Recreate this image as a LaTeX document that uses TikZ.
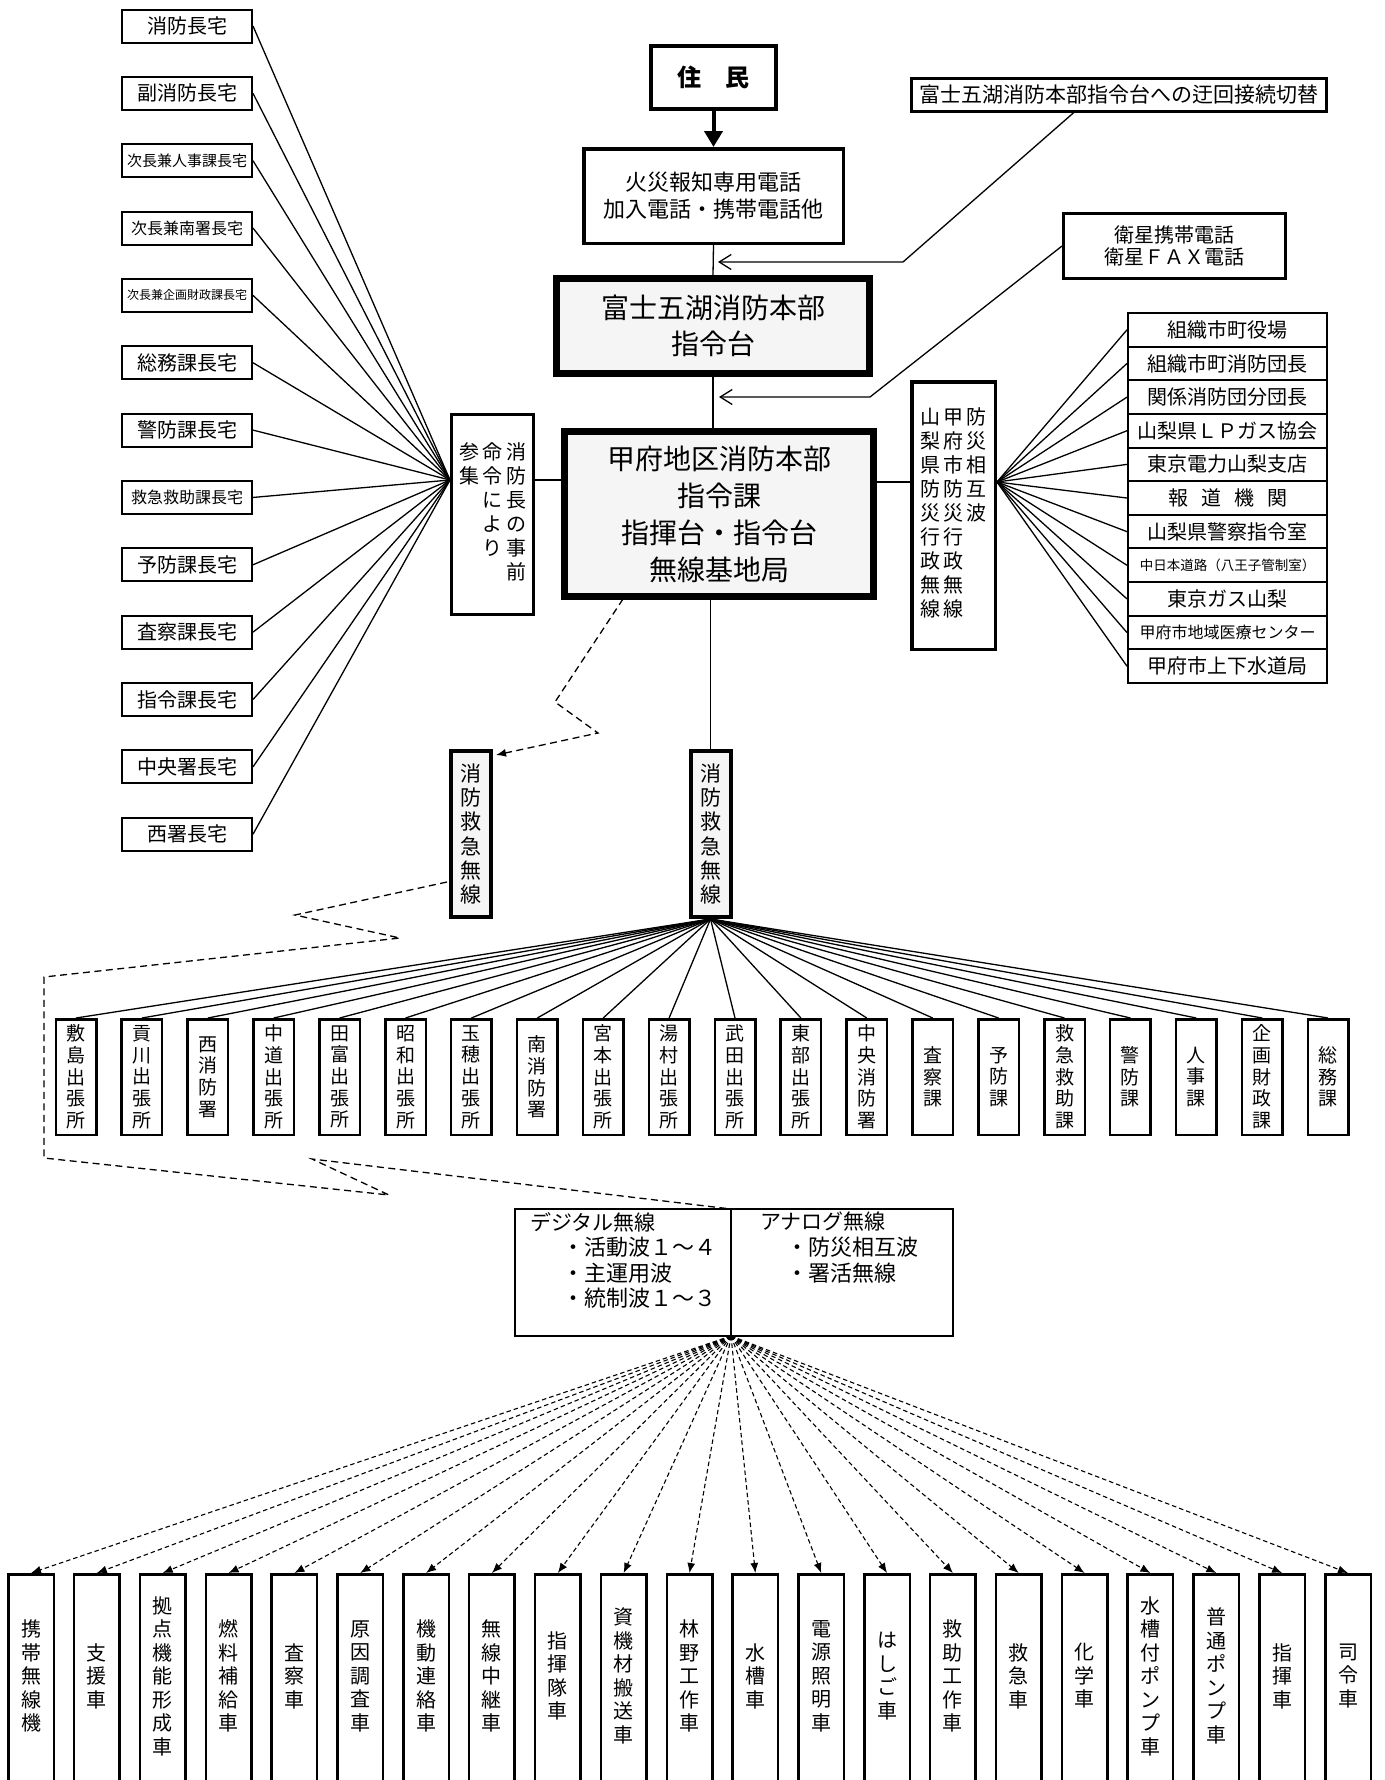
\documentclass[tikz,border=0pt]{standalone}
\usepackage{fontspec}
\setmainfont{Noto Sans CJK JP}
\usetikzlibrary{arrows.meta}
\begin{document}
\begin{tikzpicture}[x=1pt,y=-1pt,
  thinln/.style={line width=1.3pt},
  dashln/.style={line width=1.3pt, dash pattern=on 7pt off 4.5pt},
  fanln/.style={line width=1.1pt, dash pattern=on 4.5pt off 3pt},
  lbox/.style={draw, line width=2pt, minimum width=130pt, minimum height=33pt, inner sep=0pt},
  rbox/.style={draw, line width=2pt, minimum width=199pt, minimum height=33.64pt, inner sep=0pt},
  mbox/.style={draw, line width=2.5pt, minimum width=40.5pt, minimum height=115.5pt, inner sep=0pt, align=center, font=\fontsize{19}{21.7}\selectfont},
  bbox/.style={draw, line width=2.5pt, minimum width=45.5pt, minimum height=240pt, inner sep=0pt},
  btext/.style={align=center, inner sep=0pt, font=\fontsize{20}{23.5}\selectfont},
  rtext/.style={anchor=west, inner sep=0pt, font=\fontsize{21}{21}\selectfont},
  rbul/.style={anchor=west, inner sep=0pt, font=\fontsize{22}{22}\selectfont},
  grayfill/.style={fill=black!4},
  openarr/.style={-{Straight Barb[length=12pt,width=15pt]}},
  solarr/.style={-{Latex[length=10pt,width=8pt]}},
]
\useasboundingbox (0,0) rectangle (1384,1780);
\fill[white] (0,0) rectangle (1384,1780);

% ---------- top chain ----------
\node[draw, line width=4pt, minimum width=125pt, minimum height=63pt, inner sep=0pt,
      font=\fontsize{24}{24}\selectfont\bfseries] (jumin) at (713.5,77.5) {住　民};
\node[draw, line width=3.5pt, minimum width=259.5pt, minimum height=94.5pt, inner sep=0pt,
      align=center, font=\fontsize{22}{27}\selectfont] (kasai) at (713.5,196) {火災報知専用電話\\加入電話・携帯電話他};
\node[draw, line width=5pt, grayfill, minimum width=315pt, minimum height=97pt, inner sep=0pt,
      align=center, font=\fontsize{28}{36}\selectfont] (fuji) at (713,326) {富士五湖消防本部\\指令台};
\draw[line width=1.2pt] ([shift={(6,6)}]fuji.north west) rectangle ([shift={(-6,-6)}]fuji.south east);
\node[draw, line width=5pt, grayfill, minimum width=311pt, minimum height=167pt, inner sep=0pt,
      align=center, font=\fontsize{28}{37}\selectfont] (koufu) at (719,514) {甲府地区消防本部\\指令課\\指揮台・指令台\\無線基地局};
\draw[line width=1.2pt] ([shift={(6,6)}]koufu.north west) rectangle ([shift={(-6,-6)}]koufu.south east);

\draw[line width=4pt, -{Triangle[length=16pt,width=18pt]}] (jumin.south) -- (kasai.north);
\draw[thinln] (kasai.south) -- (fuji.north);
\draw[thinln] (fuji.south) -- (fuji.south |- koufu.north);

% ---------- upper right ----------
\node[draw, line width=3pt, minimum width=415pt, minimum height=33pt, inner sep=0pt,
      font=\fontsize{21}{21}\selectfont] (ukai) at (1119,95) {富士五湖消防本部指令台への迂回接続切替};
\node[draw, line width=3pt, minimum width=222pt, minimum height=65pt, inner sep=0pt,
      align=center, font=\fontsize{20}{22}\selectfont] (eisei) at (1174.5,246) {衛星携帯電話\\衛星ＦＡＸ電話};
\coordinate (u1) at (1075,111.5);
\coordinate (u2) at (903,262);
\coordinate (t1) at (718,262);
\coordinate (e2) at (870,397);
\coordinate (t2) at (719,397);
\draw[thinln, openarr] (u1) -- (u2) -- (t1);
\draw[thinln, openarr] (eisei.west) -- (e2) -- (t2);

% ---------- left column ----------
\foreach \t/\fs [count=\i from 0] in {消防長宅/20, 副消防長宅/20, 次長兼人事課長宅/15, 次長兼南署長宅/16, 次長兼企画財政課長宅/12, 総務課長宅/20, 警防課長宅/20, 救急救助課長宅/16, 予防課長宅/20, 査察課長宅/20, 指令課長宅/20, 中央署長宅/20, 西署長宅/20}
  \node[lbox, font=\fontsize{\fs}{\fs}\selectfont] (l\i) at (187, 26+67.35*\i) {\t};

\node[draw, line width=3pt, minimum width=82pt, minimum height=200pt, inner sep=0pt,
      font=\fontsize{20}{24}\selectfont] (sanshu) at (492.5,514.5)
  {\begin{tabular}{@{}c@{\hspace{3.5pt}}c@{\hspace{3.5pt}}c@{}}参&命&消\\集&令&防\\&に&長\\&よ&の\\&り&事\\&&前\end{tabular}};
\coordinate (sjL) at (450,480);
\foreach \i in {0,...,12} \draw[thinln] (l\i.east) -- (sjL);
\draw[thinln] (sanshu.east |- sjL) -- (koufu.west |- sjL);

% ---------- right column ----------
\node[draw, line width=3.5pt, minimum width=83.5pt, minimum height=267.5pt, inner sep=0pt,
      font=\fontsize{20}{23.75}\selectfont] (bosai) at (953.5,515.5)
  {\begin{tabular}{@{}c@{\hspace{3pt}}c@{\hspace{3pt}}c@{}}山&甲&防\\梨&府&災\\県&市&相\\防&防&互\\災&災&波\\行&行&\\政&政&\\無&無&\\線&線&\end{tabular}};
\coordinate (bR) at (997,482);
\draw[thinln] (koufu.east |- bR) -- (bosai.west |- bR);

\foreach \t/\fs [count=\i from 0] in {組織市町役場/20, 組織市町消防団長/20, 関係消防団分団長/20, 山梨県ＬＰガス協会/20, 東京電力山梨支店/20, {報\hspace{13pt}道\hspace{13pt}機\hspace{13pt}関}/20, 山梨県警察指令室/20, 中日本道路（八王子管制室）/13.5, 東京ガス山梨/20, 甲府市地域医療センター/16, 甲府市上下水道局/20}
  \node[rbox, font=\fontsize{\fs}{\fs}\selectfont] (r\i) at (1227.5, 313+33.64*\i+16.82) {\t};
\foreach \i in {0,...,10} \draw[thinln] (bR) -- (r\i.west);

% ---------- radio boxes ----------
\node[draw, line width=4pt, grayfill, minimum width=40pt, minimum height=166pt, inner sep=0pt,
      align=center, font=\fontsize{21}{24.3}\selectfont] (kyu) at (710.5,834) {消\\防\\救\\急\\無\\線};
\node[draw, line width=4pt, grayfill, minimum width=40pt, minimum height=166pt, inner sep=0pt,
      align=center, font=\fontsize{21}{24.3}\selectfont] (kyuL) at (471,834) {消\\防\\救\\急\\無\\線};
\draw[thinln] (kyu.north |- koufu.south) -- (kyu.north);

\coordinate (z0) at (623,599);
\coordinate (z1) at (555,702);
\coordinate (z2) at (598,733);
\draw[dashln, solarr] (z0) -- (z1) -- (z2) -- ([shift={(3,6)}]kyuL.north east);

% ---------- middle row ----------
\foreach \t [count=\i from 0] in {敷\\島\\出\\張\\所, 貢\\川\\出\\張\\所, 西\\消\\防\\署, 中\\道\\出\\張\\所, 田\\富\\出\\張\\所, 昭\\和\\出\\張\\所, 玉\\穂\\出\\張\\所, 南\\消\\防\\署, 宮\\本\\出\\張\\所, 湯\\村\\出\\張\\所, 武\\田\\出\\張\\所, 東\\部\\出\\張\\所, 中\\央\\消\\防\\署, 査\\察\\課, 予\\防\\課, 救\\急\\救\\助\\課, 警\\防\\課, 人\\事\\課, 企\\画\\財\\政\\課, 総\\務\\課}
  \node[mbox] (m\i) at (76+65.9*\i, 1077) {\t};
\foreach \i in {0,...,19} \draw[thinln] (kyu.south) -- (m\i.north);

% ---------- radio list box ----------
\node[draw, line width=1.8pt, minimum width=438pt, minimum height=127pt, inner sep=0pt] (radio) at (734,1272.5) {};
\coordinate (rtop) at (731,1209);
\coordinate (rbot) at (731,1336);
\draw[line width=1.8pt] (rtop) -- (rbot);
\node[rtext] (dg) at (530,1222) {デジタル無線};
\node[rbul] (dg1) at (562,1247) {・活動波１～４};
\node[rbul] (dg2) at (562,1273) {・主運用波};
\node[rbul] (dg3) at (562,1298) {・統制波１～３};
\node[rtext] (an) at (760,1222) {アナログ無線};
\node[rbul] (an1) at (786,1247) {・防災相互波};
\node[rbul] (an2) at (786,1273) {・署活無線};

% ---------- dashed path to the radio list ----------
\coordinate (y0) at (447,882);
\coordinate (y1) at (295,915);
\coordinate (y2) at (400,938);
\coordinate (y3) at (44,977);
\coordinate (y4) at (44,1158);
\coordinate (y5) at (389,1195);
\coordinate (y6) at (312,1159);
\draw[dashln] (y0) -- (y1) -- (y2) -- (y3) -- (y4) -- (y5) -- (y6) -- (rtop);

% ---------- bottom row ----------
\foreach \t [count=\i from 0] in {携\\帯\\無\\線\\機, 支\\援\\車, 拠\\点\\機\\能\\形\\成\\車, 燃\\料\\補\\給\\車, 査\\察\\車, 原\\因\\調\\査\\車, 機\\動\\連\\絡\\車, 無\\線\\中\\継\\車, 指\\揮\\隊\\車, 資\\機\\材\\搬\\送\\車, 林\\野\\工\\作\\車, 水\\槽\\車, 電\\源\\照\\明\\車, は\\し\\ご\\車, 救\\助\\工\\作\\車, 救\\急\\車, 化\\学\\車, 水\\槽\\付\\ポ\\ン\\プ\\車, 普\\通\\ポ\\ン\\プ\\車, 指\\揮\\車, 司\\令\\車}
{
  \node[bbox] (b\i) at (31+65.85*\i, 1694.25) {};
  \node[btext] (bt\i) at (31+65.85*\i, 1676) {\t};
}
\foreach \i in {0,...,20} \draw[fanln, solarr] (rbot) -- (b\i.north);

\end{tikzpicture}
\end{document}
